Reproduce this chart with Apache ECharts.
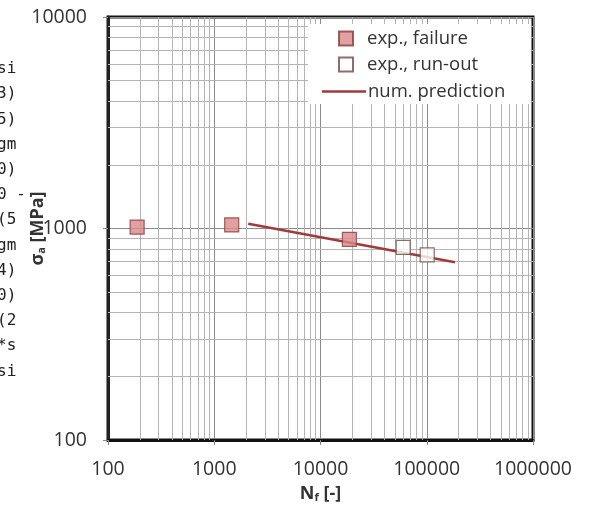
<!DOCTYPE html>
<html>
<head>
<meta charset="utf-8">
<script src="https://cdn.jsdelivr.net/npm/echarts@6/dist/echarts.min.js"></script>
<style>
  * { margin: 0; padding: 0; }
  body { background: #fff; }
</style>
</head>
<body>
<!-- chart container -->
<div id="main" style="width: 597px;height: 508px;"></div>
<script>
  // experimental points, failure
  var failN = [188, 1460, 18700];
  var failS = [1015, 1040, 889];
  // experimental points, run-out
  var runoutN = [60000, 101000];
  var runoutS = [815, 750];
  // numerical prediction line
  var predN = [2090, 184500];
  var predS = [1054, 692];

  var xDecades = [100, 1000, 10000, 100000];
  var yDecades = [100, 1000];
  // bits of code text cut off on the left of the screenshot
  var codeBits = ['si', '3)', '5)', 'gm', '0)', '0 -', '(5', 'gm', '4)', '0)', '(2', '*s', 'si'];

  var font = '"Open Sans", Lato, sans-serif';

  function pairs(xs, ys) {
    return xs.map(function (v, i) { return [v, ys[i]]; });
  }

  // minor grid at 2..9 of every decade
  var minorLines = [];
  xDecades.forEach(function (d) {
    for (var k = 2; k <= 9; k++) minorLines.push({ xAxis: d * k });
  });
  yDecades.forEach(function (d) {
    for (var k = 2; k <= 9; k++) minorLines.push({ yAxis: d * k });
  });

  var graphics = codeBits.map(function (t, i) {
    return {
      type: 'text', left: -3, top: 61 + i * 25.2, z: 1,
      style: { text: t, font: '16px "DejaVu Sans Mono", monospace', fill: '#222' }
    };
  });
  // white box behind the legend
  graphics.push({
    type: 'rect', z: 3,
    shape: { x: 308, y: 24, width: 223, height: 80 },
    style: { fill: '#fff' }
  });

  var legendText = { fontFamily: font, fontSize: 18.5, color: '#333' };
  var mycharts = echarts.init(document.getElementById('main'));
  var option = {
    animation: false,
    backgroundColor: '#fff',
    textStyle: { fontFamily: font },
    graphic: graphics,
    grid: {
      left: 108, top: 17, right: 64, bottom: 68,
      show: true, borderColor: '#111', borderWidth: 3
    },
    legend: [
      { data: ['exp., failure'], left: 338, top: 29, itemWidth: 14, textStyle: { padding: [0, 0, 0, 9] } },
      { data: ['exp., run-out'], left: 338, top: 55, itemWidth: 14, textStyle: { padding: [0, 0, 0, 9] } },
      { data: [{ name: 'num. prediction', icon: 'path://M0,0H44V2.5H0Z' }], left: 322, top: 82, itemWidth: 44, textStyle: { padding: [0, 0, 0, -3] } }
    ].map(function (l) {
      l.orient = 'vertical';
      l.itemHeight = 14;
      l.padding = 0;
      l.z = 5;
      l.textStyle = Object.assign({}, legendText, l.textStyle);
      return l;
    }),
    xAxis: {
      type: 'log', logBase: 10, min: 100, max: 1000000, interval: 1,
      name: '{b|N}{s|f}{b| [-]}', nameLocation: 'middle', nameGap: 44,
      nameTextStyle: {
        rich: {
          b: { fontFamily: font, fontSize: 18, fontWeight: 'bold', color: '#333' },
          s: { fontFamily: font, fontSize: 11, fontWeight: 'bold', color: '#333', verticalAlign: 'bottom', padding: [8, 0, 0, 0] }
        }
      },
      axisLine: { lineStyle: { color: '#111', width: 3 } },
      axisTick: { show: true, length: 5, lineStyle: { color: '#888' } },
      axisLabel: { color: '#333', fontSize: 19.5, margin: 19, formatter: function (v) { return String(v); } },
      splitLine: { show: true, lineStyle: { color: '#8a8a8a', width: 1 } }
    },
    yAxis: {
      type: 'log', logBase: 10, min: 100, max: 10000, interval: 1,
      name: '{b|σ}{s|a}{b| [MPa]}', nameLocation: 'middle', nameGap: 61,
      nameMoveOverlap: false,
      nameTextStyle: {
        rich: {
          b: { fontFamily: font, fontSize: 18, fontWeight: 'bold', color: '#333' },
          s: { fontFamily: font, fontSize: 11, fontWeight: 'bold', color: '#333', verticalAlign: 'bottom', padding: [8, 0, 0, 0] }
        }
      },
      axisLine: { lineStyle: { color: '#222', width: 3 } },
      axisTick: { show: true, length: 5, lineStyle: { color: '#888' } },
      axisLabel: { color: '#333', fontSize: 19.5, margin: 21, formatter: function (v) { return String(v); } },
      splitLine: { show: true, lineStyle: { color: '#8a8a8a', width: 1 } }
    },
    series: [
      {
        name: 'minor grid', type: 'line', data: [], silent: true,
        markLine: {
          silent: true, symbol: 'none', z: 1, animation: false,
          label: { show: false },
          lineStyle: { type: 'solid', color: '#b4b4b4', width: 1 },
          emphasis: { disabled: true },
          data: minorLines
        }
      },
      {
        name: 'num. prediction', type: 'line', z: 6,
        data: pairs(predN, predS), symbol: 'none',
        lineStyle: { color: '#9e3b3b', width: 2.5 },
        itemStyle: { color: '#9e3b3b' }
      },
      {
        name: 'exp., failure', type: 'scatter', z: 7,
        data: pairs(failN, failS), symbol: 'rect', symbolSize: 14,
        itemStyle: { color: '#d98a8a', borderColor: '#8b3a3a', borderWidth: 1.2 }
      },
      {
        name: 'exp., run-out', type: 'scatter', z: 7,
        data: pairs(runoutN, runoutS), symbol: 'rect', symbolSize: 14,
        itemStyle: { color: '#fff', borderColor: '#6e4a3e', borderWidth: 1.2 }
      }
    ]
  };
  mycharts.setOption(option);
</script>
</body>
</html>
